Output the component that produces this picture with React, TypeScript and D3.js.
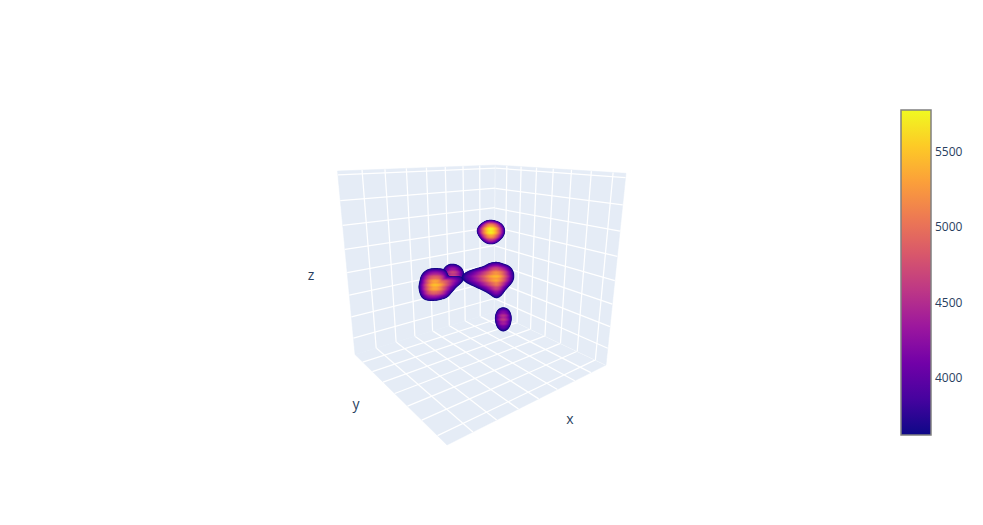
import React, { useMemo } from "react";
import * as d3 from "d3";

// Colour bar
const plasmaStops = ["#0d0887", "#46039f", "#7201a8", "#9c179e", "#bd3786", "#d8576b", "#ed7953", "#fb9f3a", "#fdca26", "#f0f921"];
const colourDomain = [3615, 5772];
const colourTicks = [4000, 4500, 5000, 5500];

// Scene corners [x, y]
const cornerLeftTop = [337.5, 171];
const cornerLeftBottom = [355, 354.5];
const cornerBackTop = [495.5, 165];
const cornerBackBottom = [494.5, 312];
const cornerRightTop = [626, 173.3];
const cornerRightBottom = [606, 365];
const cornerFront = [447, 445];

// Grid ticks as fractions of each axis
const xTicks = [1, 2, 3, 4, 5, 6, 7, 8].map((k) => k / 8);
const yTicks = [0.85, 1.85, 2.85, 3.85, 4.85, 5.85, 6.85].map((k) => k / 7.4);
const zTicks = [0.8, 1.8, 2.8, 3.8, 4.8, 5.8, 6.8, 7.8].map((k) => k / 7.95);

// Isosurface blobs, in a 130x130 view window, drawn back to front:
// core position, core value and the silhouette radius every 15 degrees.
const blobU = [53, 35, 96, 90.7, 103.3];
const blobV = [64.5, 75.3, 67, 20.3, 108.3];
const blobPeak = [4680, 5450, 5400, 5772, 4550];
const radiiBump = [11, 11, 11, 11, 11, 11, 11, 11, 11, 11, 11, 11, 11, 11, 11, 11, 11, 11, 10.6, 10.6, 10.6, 10.8, 11, 11];
const radiiLeft = [22.5, 19.2, 17.6, 17.3, 15.7, 15.3, 15.3, 16, 17.3, 18.3, 17.3, 16.7, 16.3, 15.7, 16.7, 17.3, 17.5, 17.3, 17, 17.5, 18.4, 18, 14.5, 34];
const radiiRight = [18.3, 17.5, 16.2, 15.8, 16.6, 19.8, 22, 18.8, 18, 18.7, 21.5, 27, 38, 25.5, 18.5, 15.7, 15.5, 15, 15, 15, 15, 16.7, 18, 18.3];
const radiiTop = [14.3, 14.3, 14, 13.5, 13.7, 14, 14, 13.8, 13.4, 13, 13.2, 13.6, 14, 13, 12, 11, 10.8, 10.4, 10.3, 10.4, 10.8, 11.7, 12.8, 13.8];
const radiiBottom = [8.3, 8.4, 8.9, 9.9, 11.2, 12.6, 13.3, 12.6, 11.2, 9.9, 8.9, 8.4, 8.3, 8.4, 8.8, 9.5, 10.3, 10.8, 11, 10.8, 10.3, 9.5, 8.8, 8.4];
const blobRadii = [radiiBump, radiiLeft, radiiRight, radiiTop, radiiBottom];

const WIDTH = 983;
const HEIGHT = 525;
const bar = { x: 901, y: 110, w: 30, h: 325 };
const view = { x: 400, y: 210, size: 130 };
const N = 260;

type P = number[];
function quad(p00: P, p10: P, p11: P, p01: P) {
  const dx1 = p10[0] - p11[0], dx2 = p01[0] - p11[0], sx = p00[0] - p10[0] + p11[0] - p01[0];
  const dy1 = p10[1] - p11[1], dy2 = p01[1] - p11[1], sy = p00[1] - p10[1] + p11[1] - p01[1];
  const det = dx1 * dy2 - dx2 * dy1;
  const g = (sx * dy2 - dx2 * sy) / det;
  const h = (dx1 * sy - sx * dy1) / det;
  const a = p10[0] - p00[0] + g * p10[0], b = p01[0] - p00[0] + h * p01[0], c = p00[0];
  const d = p10[1] - p00[1] + g * p10[1], e = p01[1] - p00[1] + h * p01[1], f = p00[1];
  return (u: number, v: number): [number, number] => {
    const w = g * u + h * v + 1;
    return [(a * u + b * v + c) / w, (d * u + e * v + f) / w];
  };
}

const lineGen = d3.line();
function Wall({ corners, us, vs }: { corners: P[]; us: number[]; vs: number[] }) {
  const m = quad(corners[0], corners[1], corners[2], corners[3]);
  return (
    <g>
      <polygon points={corners.map((c) => c.join(",")).join(" ")} fill="#e5ecf6" stroke="#e5ecf6" strokeWidth={0.5} />
      {us.map((u) => (
        <path key={"u" + u} d={lineGen([m(u, 0), m(u, 1)]) as string} stroke="#fff" strokeWidth={1.25} fill="none" />
      ))}
      {vs.map((v) => (
        <path key={"v" + v} d={lineGen([m(0, v), m(1, v)]) as string} stroke="#fff" strokeWidth={1.25} fill="none" />
      ))}
    </g>
  );
}

function useSurfaces() {
  return useMemo(() => {
    const colour = d3.scaleLinear<string>()
      .domain(plasmaStops.map((_, i) => colourDomain[0] + (i / (plasmaStops.length - 1)) * (colourDomain[1] - colourDomain[0])))
      .range(plasmaStops);
    const fromGrid = d3.scaleLinear().domain([0, N]).range([0, view.size]);
    const thresholds = d3.range(colourDomain[0], colourDomain[1], 50);
    const gen = d3.contours().size([N, N]).thresholds(thresholds);
    const path = d3.geoPath();
    const out: { d: string; fill: string }[] = [];
    const base = colourDomain[0];
    blobRadii.forEach((radii, b) => {
      const radiusAt = d3.interpolateBasisClosed(radii);
      const field = new Array(N * N);
      for (let y = 0; y < N; y++) {
        for (let x = 0; x < N; x++) {
          const dx = fromGrid(x + 0.5) - blobU[b], dy = fromGrid(y + 0.5) - blobV[b];
          const r = Math.hypot(dx, dy);
          const turn = ((Math.atan2(dy, dx) / (2 * Math.PI)) + 1) % 1;
          const s = 1 - (r / radiusAt(turn)) ** 2;
          if (s <= 0) { field[x + y * N] = base + Math.max(s, -1) * 500; continue; }
          const falloff = 0.6 + 0.4 * Math.exp(-((r / 14) ** 2));
          const level = Math.pow(s, 0.9) * falloff;
          // faint horizontal banding of the mesh facets
          const band = 80 * level * Math.sin((y / 2) * 1.45);
          field[x + y * N] = base + (blobPeak[b] - base) * level + band;
        }
      }
      for (const c of gen(field)) {
        if (c.coordinates.length) out.push({ d: path(c) as string, fill: colour(c.value) as string });
      }
    });
    return out;
  }, []);
}

export default function App() {
  const surfaces = useSurfaces();
  const barY = d3.scaleLinear().domain(colourDomain).range([bar.y + bar.h, bar.y]);
  const font = "'Open Sans', sans-serif";
  return (
    <svg width={WIDTH} height={HEIGHT} style={{ position: "absolute", left: 0, top: 0, display: "block", background: "#fff" }}>
      <defs>
        <linearGradient id="plasma" x1="0" y1="1" x2="0" y2="0">
          {plasmaStops.map((c, i) => (
            <stop key={c} offset={i / (plasmaStops.length - 1)} stopColor={c} />
          ))}
        </linearGradient>
      </defs>
      <Wall corners={[cornerLeftBottom, cornerBackBottom, cornerRightBottom, cornerFront]} us={xTicks} vs={yTicks} />
      <Wall corners={[cornerLeftBottom, cornerBackBottom, cornerBackTop, cornerLeftTop]} us={xTicks} vs={zTicks} />
      <Wall corners={[cornerBackBottom, cornerRightBottom, cornerRightTop, cornerBackTop]} us={yTicks} vs={zTicks} />
      <g transform={`translate(${view.x},${view.y}) scale(${view.size / N})`}>
        {surfaces.map((s, i) => (
          <path key={i} d={s.d} fill={s.fill} />
        ))}
      </g>
      <g fontFamily={font} fill="#2a3f5f" fontSize={14} textAnchor="middle">
        <text x={311} y={280}>z</text>
        <text x={356} y={409}>y</text>
        <text x={570} y={424}>x</text>
      </g>
      <rect x={bar.x} y={bar.y} width={bar.w} height={bar.h} fill="url(#plasma)" stroke="#808080" strokeWidth={1.5} />
      <g fontFamily={font} fill="#2a3f5f" fontSize={12}>
        {colourTicks.map((t) => (
          <text key={t} x={935} y={barY(t) + 5}>{t}</text>
        ))}
      </g>
    </svg>
  );
}
